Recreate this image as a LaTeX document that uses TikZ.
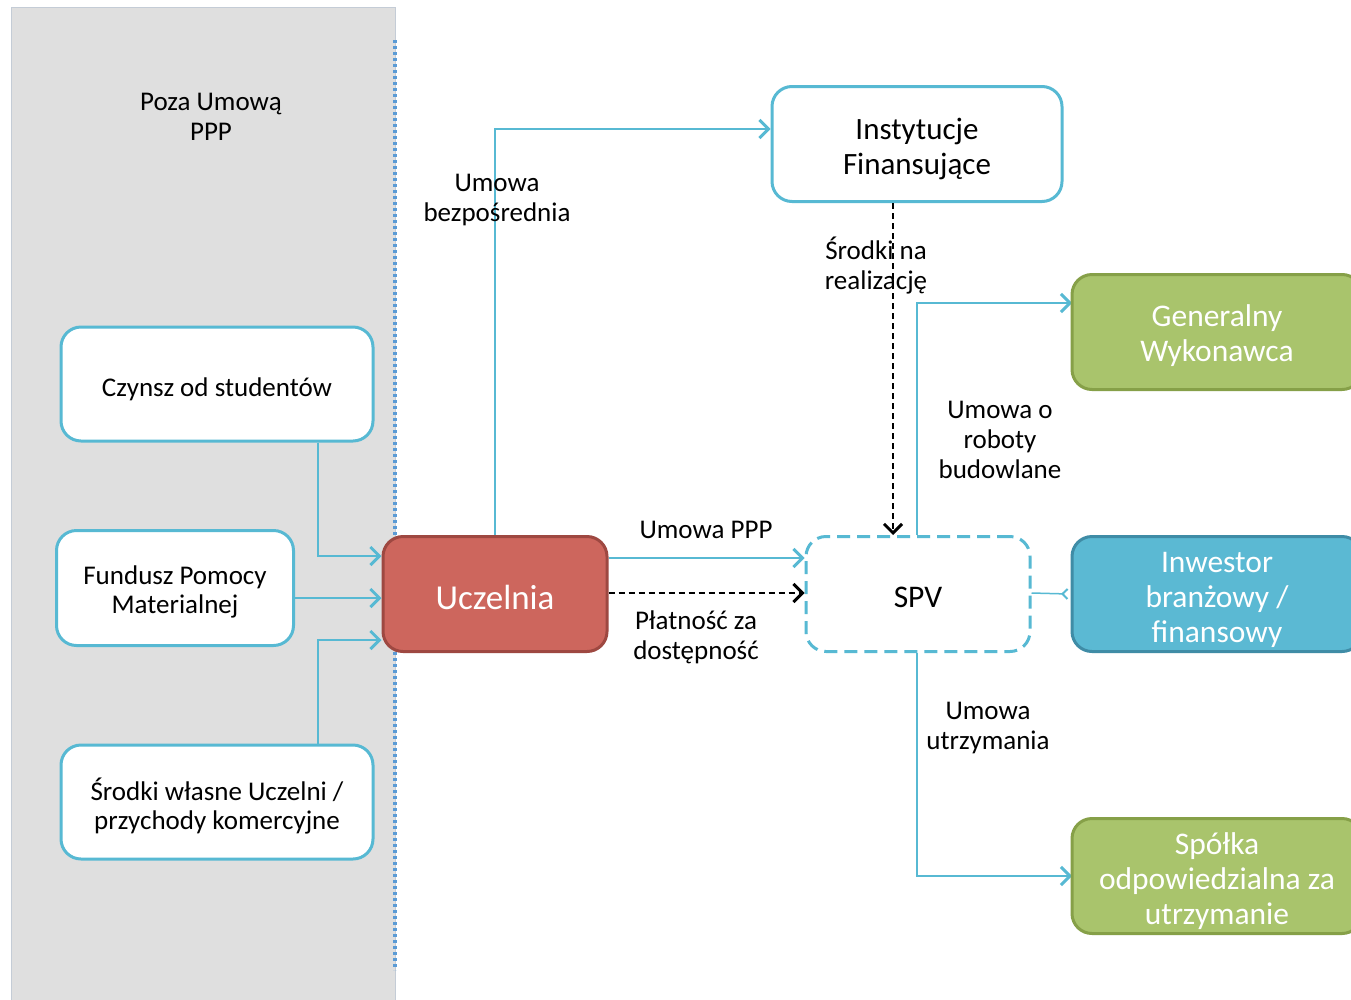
\documentclass[tikz,border=0pt]{standalone}
\usepackage{fontspec}
\setmainfont{Carlito}
\usetikzlibrary{arrows.meta}
\definecolor{lb}{HTML}{57B9D3}
\definecolor{panel}{HTML}{DFDFDF}
\definecolor{panelb}{HTML}{C4CCD6}
\definecolor{dotb}{HTML}{5B9BD5}
\definecolor{redf}{HTML}{CD665D}
\definecolor{redb}{HTML}{9E4841}
\definecolor{grf}{HTML}{A9C46C}
\definecolor{grb}{HTML}{86A048}
\definecolor{bf}{HTML}{5BB9D3}
\definecolor{bb}{HTML}{3F8CA6}
\tikzset{
  whitebox/.style={draw=lb, line width=3pt, fill=white, rounded corners=20pt, inner sep=0pt},
  colbox/.style={line width=3pt, rounded corners=20pt, inner sep=0pt},
  txt/.style={align=center, inner sep=0pt},
  lbl/.style={align=center, inner sep=0pt, font=\fontsize{27}{30}\selectfont},
  conn/.style={draw=lb, line width=1.5pt, -{Straight Barb[length=9pt,width=18pt,line width=3pt]}},
  blkdash/.style={draw=black, line width=1.5pt, dash pattern=on 6pt off 4pt, -{Straight Barb[length=9pt,width=18pt,line width=3pt]}},
  mainf/.style={font=\fontsize{27}{29.5}\selectfont},
  bigf/.style={font=\fontsize{31.5}{35}\selectfont, text=white}
}
\begin{document}
\begin{tikzpicture}[x=1pt,y=-1pt]
\useasboundingbox (0,0) rectangle (1351,999);
\fill[white] (0,0) rectangle (1351,999);
% left panel
\draw[panelb, fill=panel, line width=1pt] (11,1010) -- (11,7) -- (395,7) -- (395,1010);
\node[lbl] (poza) at (211,117) {Poza Umową\\PPP};
\draw[dotb, line width=3.5pt, dash pattern=on 3pt off 3pt] (395,40) -- (395,970);

% connector bend points
\coordinate (c1) at (318,556);
\coordinate (c3) at (318,640);
\coordinate (cu) at (495,129);
\coordinate (cg) at (917,303);
\coordinate (cs) at (917,876);

% boxes
\node[whitebox, minimum width=312pt, minimum height=114pt] (czynsz) at (217,384) {};
\node[whitebox, minimum width=237pt, minimum height=115pt] (fund) at (175,588) {};
\node[whitebox, minimum width=312pt, minimum height=114pt] (srodki) at (217,802) {};
\node[colbox, draw=redb, fill=redf, minimum width=224pt, minimum height=115pt] (ucz) at (495,594) {};
\node[whitebox, minimum width=290pt, minimum height=115pt] (inst) at (917,144) {};
\node[colbox, draw=lb, dash pattern=on 13pt off 7pt, fill=white, minimum width=224pt, minimum height=115pt] (spv) at (918,594) {};

\node[txt, mainf] (czynszt) at ([yshift=-5pt]czynsz.center) {Czynsz od studentów};
\node[txt, mainf] (fundt) at ([yshift=-4pt]fund.center) {Fundusz Pomocy\\Materialnej};
\node[txt, mainf] (srodkit) at ([yshift=-4pt]srodki.center) {Środki własne Uczelni /\\przychody komercyjne};
\node[txt, font=\fontsize{35}{40}\selectfont, text=white] (uczt) at ([yshift=-3pt]ucz.center) {Uczelnia};
\node[txt, font=\fontsize{31}{35}\selectfont] (instt) at ([yshift=-5pt]inst.center) {Instytucje\\Finansujące};
\node[txt, font=\fontsize{31.5}{35}\selectfont] (spvt) at ([yshift=-3pt]spv.center) {SPV};

\draw[conn] (czynsz.south -| c1) -- (c1) -- (c1 -| ucz.west);
\draw[conn] (fund.east |- 0,598) -- (ucz.west |- 0,598);
\draw[conn] (srodki.north -| c3) -- (c3) -- (c3 -| ucz.west);
\draw[conn] (ucz.north) -- (cu) -- (cu -| inst.west);
\draw[conn] (ucz.east |- 0,558) -- (spv.west |- 0,558);
\draw[blkdash] (ucz.east |- 0,593) -- (spv.west |- 0,593);
\draw[blkdash] (inst.south -| 893,0) -- (spv.north -| 893,0);
\draw[conn] (spv.north -| cg) -- (cg) -- (1072,303) coordinate (gw);
\draw[conn] (spv.south -| cs) -- (cs) -- (1072,876) coordinate (sw);

\node[colbox, draw=grb, fill=grf, minimum width=290pt, minimum height=115pt] (gen) at (1217,332) {};
\node[colbox, draw=bb, fill=bf, minimum width=290pt, minimum height=115pt] (inw) at (1217,594) {};
\node[colbox, draw=grb, fill=grf, minimum width=290pt, minimum height=115pt] (spol) at (1217,876) {};
\node[txt, bigf] (gent) at ([yshift=-4pt]gen.center) {Generalny\\Wykonawca};
\node[txt, bigf] (inwt) at ([yshift=-6pt]inw.center) {Inwestor\\branżowy /\\finansowy};
\node[txt, bigf] (spolt) at ([yshift=-5pt]spol.center) {Spółka\\odpowiedzialna za\\utrzymanie};
\draw[draw=lb, line width=1.5pt, -{Straight Barb[reversed,length=5pt,width=10pt,line width=2pt]}] (spv.east |- 0,593) -- ([xshift=-2pt]inw.west);

% labels
\node[lbl] (l1) at (497,200) {Umowa\\bezpośrednia};
\node[lbl] (l2) at (706,530) {Umowa PPP};
\node[lbl] (l3) at (696,637) {Płatność za\\dostępność};
\node[lbl] (l4) at (876,266) {Środki na\\realizację};
\node[lbl] (l5) at (1000,440) {Umowa o\\roboty\\budowlane};
\node[lbl] (l6) at (988,728) {Umowa\\utrzymania};
\end{tikzpicture}
\end{document}
